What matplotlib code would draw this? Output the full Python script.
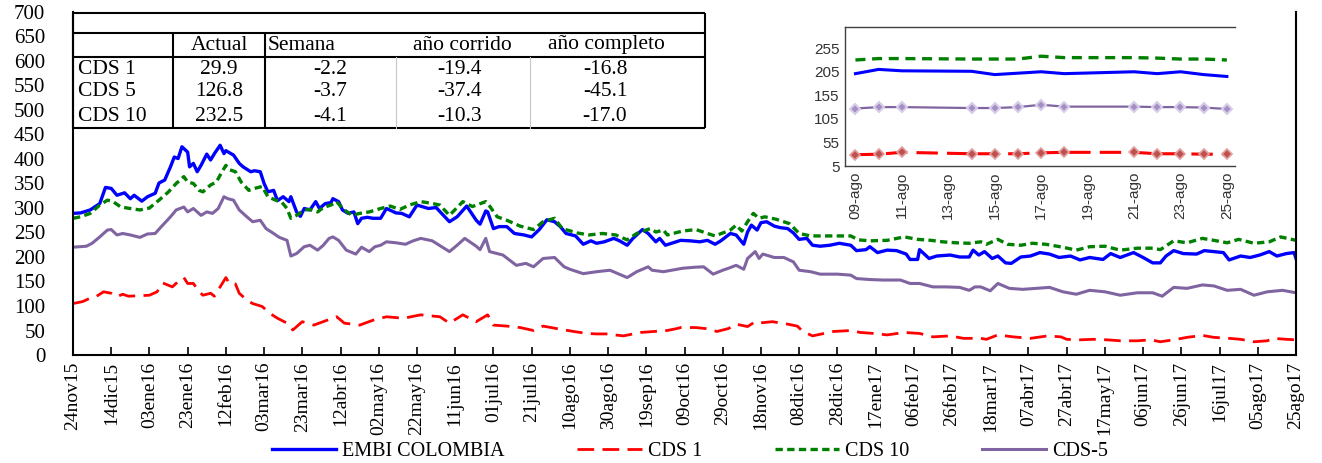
import matplotlib
matplotlib.use("Agg")
import matplotlib.pyplot as plt

plt.rcParams['font.family'] = ['Liberation Serif', 'DejaVu Serif']

# x = days since 24nov15, y = basis points
embi_days = [0, 4, 9, 14, 17, 20, 23, 27, 30, 32, 36, 39, 43, 45, 48, 51, 53, 55, 57, 60,
             61, 63, 65, 67, 70, 72, 74, 77, 79, 80, 84, 87, 89, 93, 95, 98, 100, 102, 105, 107,
             110, 113, 114, 117, 119, 121, 124, 127, 129, 132, 135, 136, 139, 141, 144, 147, 149, 151, 154, 157,
             161, 164, 169, 172, 176, 180, 186, 190, 197, 201, 206, 211, 213, 216, 217, 220, 223, 227, 231, 236,
             240, 244, 248, 252, 255, 258, 263, 267, 271, 274, 278, 283, 286, 290, 293, 298, 301, 305, 307, 310,
             314, 318, 323, 328, 332, 336, 339, 344, 347, 351, 353, 355, 358, 360, 363, 367, 370, 374, 377, 380,
             384, 387, 391, 396, 401, 407, 410, 415, 417, 421, 426, 431, 436, 438, 442, 443, 448, 452, 459, 464,
             469, 471, 474, 477, 481, 484, 488, 491, 496, 501, 506, 511, 516, 522, 527, 532, 539, 543, 548, 555,
             560, 565, 569, 572, 576, 581, 588, 592, 597, 602, 605, 611, 616, 621, 626, 630, 635, 639, 640]
embi_vals = [289, 290, 296, 309, 342, 340, 326, 331, 319, 326, 314, 323, 330, 351, 357, 384, 404, 401, 425, 414,
             384, 391, 374, 387, 410, 398, 411, 428, 411, 417, 408, 391, 384, 374, 376, 374, 350, 333, 336, 315,
             323, 313, 323, 292, 283, 299, 296, 313, 299, 309, 311, 319, 313, 296, 289, 292, 268, 279, 281, 279,
             279, 299, 290, 289, 282, 306, 299, 301, 272, 282, 304, 275, 267, 294, 292, 258, 262, 262, 248, 245,
             241, 256, 276, 272, 262, 248, 243, 226, 233, 228, 231, 238, 233, 224, 238, 256, 248, 231, 238, 224,
             229, 234, 233, 231, 234, 226, 233, 248, 245, 226, 251, 265, 255, 270, 272, 263, 260, 258, 249, 236,
             238, 224, 222, 224, 228, 224, 213, 215, 221, 209, 214, 213, 206, 195, 195, 215, 197, 202, 204, 200,
             200, 214, 204, 211, 197, 202, 188, 187, 200, 202, 209, 206, 199, 202, 194, 199, 195, 207, 199, 209,
             199, 188, 188, 202, 213, 207, 206, 213, 211, 209, 194, 202, 199, 204, 211, 202, 207, 209, 197]

cds10_days = [0, 4, 9, 14, 18, 21, 25, 30, 35, 40, 45, 50, 54, 58, 60, 63, 66, 68, 72, 75,
              78, 80, 82, 85, 88, 92, 95, 99, 102, 106, 109, 112, 114, 117, 121, 124, 128, 131, 135, 138,
              141, 146, 150, 155, 161, 166, 171, 176, 182, 187, 192, 197, 204, 209, 216, 218, 222, 227, 234, 241,
              246, 252, 256, 264, 270, 277, 284, 290, 295, 302, 305, 309, 311, 319, 326, 332, 336, 340, 344, 347,
              350, 353, 356, 359, 362, 368, 375, 380, 386, 396, 407, 411, 417, 426, 435, 442, 449, 455, 462, 469,
              475, 478, 484, 489, 496, 502, 509, 518, 525, 532, 540, 548, 557, 565, 569, 576, 583, 591, 597, 604,
              610, 618, 626, 632, 640]
cds10_vals = [279, 282, 289, 306, 316, 313, 302, 299, 296, 300, 316, 333, 350, 364, 353, 350, 336, 333, 347, 353,
              374, 387, 378, 374, 353, 336, 340, 344, 323, 316, 313, 299, 279, 285, 296, 297, 292, 301, 306, 313,
              299, 285, 289, 292, 299, 304, 297, 306, 313, 310, 306, 285, 313, 303, 313, 304, 282, 275, 263, 256,
              272, 279, 258, 249, 245, 248, 245, 235, 248, 258, 251, 255, 245, 253, 256, 248, 243, 249, 255, 265,
              253, 272, 289, 279, 282, 277, 268, 248, 243, 243, 243, 235, 233, 234, 241, 236, 234, 231, 229, 228,
              231, 226, 236, 226, 224, 228, 226, 220, 214, 221, 222, 214, 218, 218, 215, 233, 229, 238, 234, 229,
              236, 228, 231, 241, 234]

cds5_days = [0, 7, 10, 14, 18, 20, 23, 26, 30, 35, 39, 43, 46, 51, 54, 58, 60, 63, 67, 70,
             73, 76, 79, 81, 84, 87, 91, 94, 98, 101, 105, 108, 112, 114, 117, 121, 124, 128, 131, 134,
             136, 139, 143, 148, 151, 155, 158, 161, 164, 169, 174, 178, 182, 188, 197, 201, 205, 211, 213, 216,
             218, 225, 232, 237, 241, 246, 252, 257, 260, 267, 274, 281, 290, 295, 301, 303, 309, 319, 325, 330,
             335, 340, 343, 347, 351, 353, 357, 359, 361, 367, 372, 377, 380, 386, 391, 400, 407, 410, 417, 424,
             433, 438, 443, 450, 457, 464, 469, 472, 475, 480, 484, 490, 497, 504, 511, 518, 525, 532, 540, 548,
             557, 565, 570, 576, 583, 591, 597, 604, 611, 618, 625, 633, 640]
cds5_vals = [220, 222, 228, 241, 255, 256, 245, 248, 245, 240, 247, 248, 261, 282, 296, 302, 292, 299, 285, 292,
             289, 299, 323, 319, 316, 296, 282, 272, 275, 258, 248, 240, 234, 202, 207, 221, 224, 214, 224, 238,
             241, 234, 214, 206, 220, 211, 221, 224, 231, 229, 226, 233, 238, 233, 211, 224, 238, 222, 215, 238,
             211, 204, 183, 187, 180, 197, 199, 180, 175, 166, 170, 173, 158, 170, 180, 173, 170, 177, 179, 180,
             165, 173, 177, 183, 175, 197, 211, 197, 206, 199, 199, 190, 173, 170, 165, 165, 163, 156, 154, 153,
             153, 146, 146, 139, 139, 138, 132, 139, 139, 131, 146, 136, 134, 136, 138, 129, 124, 132, 129, 122,
             127, 127, 120, 138, 136, 143, 141, 132, 134, 122, 129, 132, 127]

cds1_days = [0, 5, 9, 12, 16, 20, 23, 26, 29, 35, 40, 44, 47, 52, 55, 58, 60, 63, 66, 68,
             72, 74, 77, 80, 82, 85, 87, 91, 94, 99, 103, 107, 112, 115, 120, 126, 133, 138, 142, 150,
             157, 164, 173, 182, 192, 197, 204, 211, 217, 220, 227, 234, 241, 246, 253, 262, 269, 274, 279, 288,
             297, 304, 311, 316, 318, 326, 331, 337, 343, 347, 353, 357, 361, 366, 374, 379, 382, 387, 393, 398,
             407, 412, 419, 426, 435, 443, 450, 459, 466, 469, 475, 478, 484, 492, 501, 510, 517, 520, 527, 534,
             541, 548, 557, 564, 569, 576, 583, 591, 597, 605, 611, 618, 625, 628, 635, 640]
cds1_vals = [105, 109, 116, 119, 129, 126, 119, 124, 120, 121, 122, 129, 147, 139, 150, 158, 146, 146, 129, 122,
             126, 120, 139, 158, 145, 145, 126, 112, 105, 99, 85, 75, 65, 51, 68, 61, 71, 78, 65, 61,
             71, 78, 75, 82, 78, 65, 82, 68, 82, 61, 59, 56, 50, 59, 54, 48, 44, 43, 43, 39,
             46, 48, 50, 54, 56, 56, 54, 48, 54, 63, 58, 68, 66, 68, 63, 59, 48, 39, 44, 48,
             50, 46, 44, 41, 46, 44, 37, 39, 34, 34, 34, 32, 41, 37, 34, 39, 37, 32, 31, 32,
             31, 29, 29, 31, 27, 31, 36, 40, 36, 34, 32, 27, 29, 34, 32, 31]

x_tick_labels = ["24nov15", "14dic15", "03ene16", "23ene16", "12feb16", "03mar16", "23mar16", "12abr16",
                 "02may16", "22may16", "11jun16", "01jul16", "21jul16", "10ago16", "30ago16", "19sep16",
                 "09oct16", "29oct16", "18nov16", "08dic16", "28dic16", "17ene17", "06feb17", "26feb17",
                 "18mar17", "07abr17", "27abr17", "17may17", "06jun17", "26jun17", "16jul17", "05ago17",
                 "25ago17"]

# inset: last two weeks (day of august 2017)
inset_days = [9, 10, 11, 14, 15, 16, 17, 18, 21, 22, 23, 24, 25]
inset_embi = [201, 210, 207, 206, 199, 202, 205, 201, 205, 201, 205, 199, 195]
inset_cds10 = [230, 233, 233, 232, 232, 232, 238, 235, 235, 234, 232, 232, 230]
inset_cds5 = [127, 130, 130, 128, 128, 130, 135, 131, 131, 130, 130, 129, 126]
inset_cds1 = [29, 30, 34, 31, 31, 31, 33, 34, 34, 31, 31, 30, 30]
inset_ticks = [9, 11, 13, 15, 17, 19, 21, 23, 25]
inset_labels = ["09-ago", "11-ago", "13-ago", "15-ago", "17-ago", "19-ago", "21-ago", "23-ago", "25-ago"]

table_cols = ["Actual", "Semana", "año corrido", "año completo"]
table_rows = ["CDS 1", "CDS 5", "CDS 10"]
table_vals = [["29.9", "-2.2", "-19.4", "-16.8"],
              ["126.8", "-3.7", "-37.4", "-45.1"],
              ["232.5", "-4.1", "-10.3", "-17.0"]]

BLUE = "#0000FF"
RED = "#FF0000"
GREEN = "#008000"
PURPLE = "#8064A2"

W, H = 1322, 463
fig = plt.figure(figsize=(W / 100, H / 100), dpi=100)

# main chart
ax = fig.add_axes([73 / W, 1 - 355 / H, 1223 / W, 343 / H])
ax.plot(embi_days, embi_vals, color=BLUE, lw=2.4, label="EMBI COLOMBIA")
ax.plot(cds1_days, cds1_vals, color=RED, lw=2.0, ls=(0, (6, 3)), label="CDS 1")
ax.plot(cds10_days, cds10_vals, color=GREEN, lw=2.4, ls=(0, (2.2, 1.3)), label="CDS 10")
ax.plot(cds5_days, cds5_vals, color=PURPLE, lw=2.2, label="CDS-5")

ax.set_xlim(0, 640)
ax.set_ylim(0, 700)
ax.set_yticks(range(0, 701, 50))
ax.set_xticks(range(0, 641, 20))
ax.set_xticklabels(x_tick_labels, rotation=90, fontsize=14)
ax.tick_params(axis="x", direction="in", length=6, width=1.2, pad=5)
ax.tick_params(axis="y", length=0, pad=20, labelsize=15)
ax.spines["top"].set_visible(False)
for s in ["left", "bottom", "right"]:
    ax.spines[s].set_linewidth(1.5)

fig.legend(loc="center", bbox_to_anchor=(0.522, 0.024), ncol=4, frameon=False,
           fontsize=14.5, handlelength=3.2, handletextpad=0.3, columnspacing=3.6)

# summary table
tax = fig.add_axes([73 / W, 1 - 128 / H, 632 / W, 115 / H])
tax.set_xlim(0, 632)
tax.set_ylim(115, 0)
tax.axis("off")
lk = dict(color="black", lw=1.5, clip_on=False, solid_capstyle="butt")
for yy in [0, 20, 44, 115]:
    tax.plot([0, 632], [yy, yy], **lk)
tax.plot([0, 0], [0, 115], **lk)
tax.plot([632, 632], [0, 115], **lk)
tax.plot([100, 100], [20, 115], **lk)
tax.plot([192, 192], [20, 115], **lk)
for xx in [323, 457]:
    tax.plot([xx, xx], [44, 115], color="#c8c8c8", lw=0.8, clip_on=False)

col_x = [146, 195, 389, 533]
col_ha = ["center", "left", "center", "center"]
for name, x0, ha in zip(table_cols, col_x, col_ha):
    tax.text(x0, 32, name, ha=ha, va="center", fontsize=15.5)
row_y = [56, 79, 103]
val_x = [146, 257, 387, 532]
for r, name in enumerate(table_rows):
    tax.text(5, row_y[r], name, ha="left", va="center", fontsize=15.5)
    for c, v in enumerate(table_vals[r]):
        tax.text(val_x[c], row_y[r], v, ha="center", va="center", fontsize=15.5)

# inset of the last weeks
iax = fig.add_axes([845 / W, 1 - 166 / H, 390 / W, 139 / H])
iax.plot(inset_days, inset_cds10, color=GREEN, lw=2.4, ls=(0, (3, 2)))
iax.plot(inset_days, inset_embi, color=BLUE, lw=2.2)
iax.plot(inset_days, inset_cds5, color=PURPLE, lw=1.6, marker="D", ms=5.5,
         mfc="#a48fc4", mec="#d8cce8", mew=1.5)
iax.plot(inset_days, inset_cds1, color=RED, lw=2.2, ls=(0, (7, 3)), marker="D", ms=5.5,
         mfc="#c0504d", mec="#e0a0a0", mew=1.2)
iax.set_xlim(8.55, 25.35)
iax.set_ylim(5, 300)
iax.set_yticks([5, 55, 105, 155, 205, 255])
iax.set_xticks(inset_ticks)
iax.set_xticklabels(inset_labels, rotation=90)
iax.tick_params(length=0, labelsize=11, labelcolor="#333333", pad=4)
for lab in iax.get_xticklabels() + iax.get_yticklabels():
    lab.set_family(["Liberation Sans", "DejaVu Sans"])
iax.spines["right"].set_visible(False)
for s in ["left", "bottom", "top"]:
    iax.spines[s].set_color("#404040")
    iax.spines[s].set_linewidth(1.0)

fig.savefig("out.png", dpi=100)
